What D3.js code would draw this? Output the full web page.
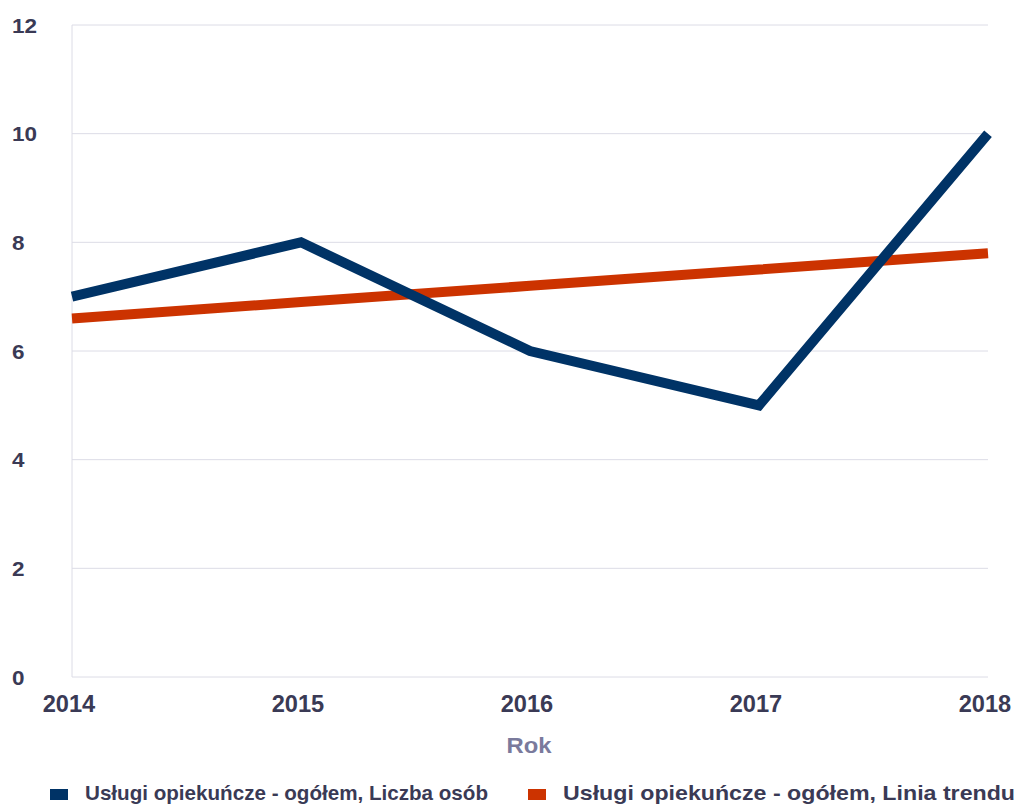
<!DOCTYPE html>
<html><head><meta charset="utf-8">
<script src="https://cdn.jsdelivr.net/npm/d3@7"></script>
<style>body{margin:0;background:#fff;font-family:"Liberation Sans",Arial,sans-serif;}</style>
</head><body><svg id="c" width="1019" height="805"></svg>
<script>
const years = ["2014","2015","2016","2017","2018"];
const liczbaOsob = [7, 8, 6, 5, 10];
const liniaTrendu = [6.6, 6.9, 7.2, 7.5, 7.8];
const yTicks = [0, 2, 4, 6, 8, 10, 12];
const seriesNames = ["Usługi opiekuńcze - ogółem, Liczba osób", "Usługi opiekuńcze - ogółem, Linia trendu"];
const colors = ["#003366", "#cc3300"];

const svg = d3.select("#c");
const x = d3.scalePoint().domain(years).range([72, 988]);
const y = d3.scaleLinear().domain([0, 12]).range([677, 25]);
const txt = "#3a3a55";

// grid
svg.append("g").selectAll("line").data(yTicks).join("line")
  .attr("x1", 72).attr("x2", 988).attr("y1", d => y(d)).attr("y2", d => y(d))
  .attr("stroke", "#dcdce6").attr("stroke-width", 1);
svg.append("line").attr("x1", 72).attr("x2", 72).attr("y1", y(12)).attr("y2", y(0))
  .attr("stroke", "#dcdce6").attr("stroke-width", 1);

// y labels
svg.append("g").selectAll("text").data(yTicks).join("text")
  .attr("x", 12).attr("y", d => y(d) + 7.5)
  .attr("font-size", 21).attr("font-weight", "bold").attr("fill", txt)
  .attr("textLength", d => String(d).length * 12.5).attr("lengthAdjust", "spacingAndGlyphs")
  .text(d => d);

// x labels
svg.append("g").selectAll("text").data(years).join("text")
  .attr("x", d => x(d) - 3).attr("y", 711.5).attr("text-anchor", "middle")
  .attr("font-size", 23).attr("font-weight", "bold").attr("fill", txt)
  .attr("textLength", 52.5).attr("lengthAdjust", "spacingAndGlyphs")
  .text(d => d);

svg.append("text").attr("x", 529).attr("y", 753).attr("text-anchor", "middle")
  .attr("font-size", 22).attr("font-weight", "bold").attr("fill", "#7a7a9c")
  .attr("textLength", 45).attr("lengthAdjust", "spacingAndGlyphs").text("Rok");

const line = d3.line().x((d, i) => x(years[i])).y(d => y(d));
svg.append("path").datum(liniaTrendu).attr("d", line).attr("fill", "none")
  .attr("stroke", colors[1]).attr("stroke-width", 10);
svg.append("path").datum(liczbaOsob).attr("d", line).attr("fill", "none")
  .attr("stroke", colors[0]).attr("stroke-width", 10).attr("stroke-linejoin", "miter");

// legend
const leg = [{sx: 50, tx: 85, tl: 403}, {sx: 528, tx: 563, tl: 452}];
leg.forEach((l, i) => {
  svg.append("rect").attr("x", l.sx).attr("y", 789).attr("width", 18).attr("height", 11).attr("fill", colors[i]);
  svg.append("text").attr("x", l.tx).attr("y", 799.5)
    .attr("font-size", 21).attr("font-weight", "bold").attr("fill", txt)
    .attr("textLength", l.tl).attr("lengthAdjust", "spacingAndGlyphs")
    .text(seriesNames[i]);
});
</script></body></html>
